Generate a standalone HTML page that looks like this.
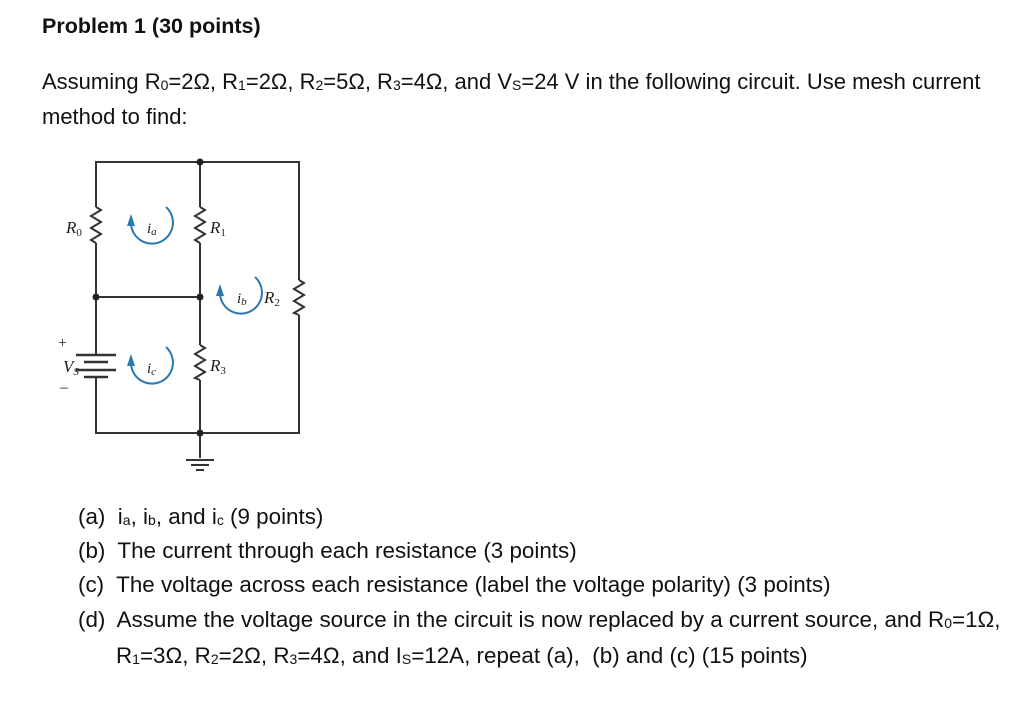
<!DOCTYPE html>
<html><head><meta charset="utf-8"><style>
body{margin:0;width:1024px;height:704px;background:#fff;font-family:"Liberation Sans",sans-serif;color:#111;position:relative;overflow:hidden}
.t{position:absolute;white-space:nowrap;font-size:22px}
.l{font-size:22.4px}
sub{font-size:14px;vertical-align:0;position:relative;top:1px}
</style></head><body>
<div class="t" style="left:42px;top:14px;font-weight:bold;font-size:21.5px">Problem 1 (30 points)</div>
<div class="t" style="left:42px;top:69px">Assuming R<sub>0</sub>=2Ω, R<sub>1</sub>=2Ω, R<sub>2</sub>=5Ω, R<sub>3</sub>=4Ω, and V<sub>S</sub>=24 V in the following circuit. Use mesh current</div>
<div class="t" style="left:42px;top:104px">method to find:</div>
<div class="t l" style="left:78px;top:504px">(a)&nbsp; i<sub>a</sub>, i<sub>b</sub>, and i<sub>c</sub> (9 points)</div>
<div class="t l" style="left:78px;top:538px">(b)&nbsp; The current through each resistance (3 points)</div>
<div class="t l" style="left:78px;top:572px">(c)&nbsp; The voltage across each resistance (label the voltage polarity) (3 points)</div>
<div class="t l" style="left:78px;top:607px">(d)&nbsp; Assume the voltage source in the circuit is now replaced by a current source, and R<sub>0</sub>=1Ω,</div>
<div class="t l" style="left:116px;top:643px">R<sub>1</sub>=3Ω, R<sub>2</sub>=2Ω, R<sub>3</sub>=4Ω, and I<sub>S</sub>=12A, repeat (a),&nbsp; (b) and (c) (15 points)</div>
<svg width="1024" height="704" style="position:absolute;left:0;top:0" font-family="Liberation Serif, serif" font-style="italic">
<g stroke="#333" stroke-width="2" fill="none">
<polyline points="96,207 96,162 299,162 299,280"/>
<polyline points="96,243 96,355"/>
<polyline points="96,377 96,433 299,433 299,315"/>
<line x1="200" y1="162" x2="200" y2="207"/>
<line x1="200" y1="243" x2="200" y2="345"/>
<line x1="200" y1="380" x2="200" y2="458"/>
<line x1="96" y1="297" x2="200" y2="297"/>
<polyline points="96,207 101,210 91,216 101,222 91,228 101,234 91,240 96,243"/>
<polyline points="200,207 205,210 195,216 205,222 195,228 205,234 195,240 200,243"/>
<polyline points="200,345 205,348 195,354 205,360 195,366 205,372 195,378 200,380"/>
<polyline points="299,280 304,283 294,289 304,295 294,301 304,307 294,313 299,315"/>
<line x1="76" y1="355" x2="116" y2="355" stroke-width="2.5"/>
<line x1="84" y1="362" x2="108" y2="362" stroke-width="2.5"/>
<line x1="76" y1="370" x2="116" y2="370" stroke-width="2.5"/>
<line x1="84" y1="377" x2="108" y2="377" stroke-width="2.5"/>
<line x1="186" y1="460" x2="214" y2="460"/>
<line x1="191" y1="465" x2="209" y2="465"/>
<line x1="196" y1="470" x2="204" y2="470"/>
</g>
<g fill="#222"><circle cx="200" cy="162" r="3.5"/><circle cx="96" cy="297" r="3.5"/><circle cx="200" cy="297" r="3.5"/><circle cx="200" cy="433" r="3.5"/></g>
<g stroke="#2a78b0" stroke-width="2" fill="none">
<path d="M166,207 A21,21 0 1 1 131,224"/>
<path d="M166,347 A21,21 0 1 1 131,364"/>
<path d="M255,277 A21,21 0 1 1 220,294"/>
</g>
<g fill="#2a78b0">
<polygon points="127,226 131,214 135,226"/><polygon points="127,366 131,354 135,366"/><polygon points="216,296 220,284 224,296"/>
</g>
<g font-size="17" fill="#222">
<text x="66" y="233">R<tspan font-size="11" dy="3" font-style="normal">0</tspan></text>
<text x="210" y="233">R<tspan font-size="11" dy="3" font-style="normal">1</tspan></text>
<text x="210" y="371">R<tspan font-size="11" dy="3" font-style="normal">3</tspan></text>
<text x="264" y="303">R<tspan font-size="11" dy="3" font-style="normal">2</tspan></text>
<text x="63" y="372">V<tspan font-size="11" dy="3">S</tspan></text>
<text x="147" y="233" font-size="15">i<tspan font-size="11" dy="2">a</tspan></text>
<text x="147" y="373" font-size="15">i<tspan font-size="11" dy="2">c</tspan></text>
<text x="237" y="303" font-size="15">i<tspan font-size="11" dy="2">b</tspan></text>
<text x="58" y="348" font-style="normal" font-size="16">+</text>
<text x="60" y="392" font-style="normal" font-size="16">–</text>
</g>
</svg>
</body></html>
